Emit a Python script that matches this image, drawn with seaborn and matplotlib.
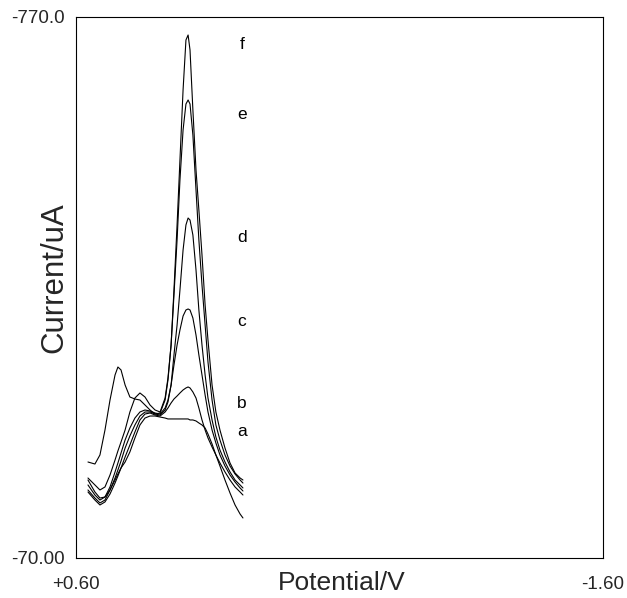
import pandas as pd
import matplotlib
matplotlib.use("Agg")
import matplotlib.pyplot as plt
import seaborn as sns

# ================= 数据 =================
potential = [0.550, 0.521, 0.500, 0.479, 0.458, 0.437, 0.425, 0.412, 0.395, 0.375,
             0.354, 0.333, 0.312, 0.291, 0.270, 0.249, 0.228, 0.216, 0.203, 0.191,
             0.178, 0.166, 0.153, 0.141, 0.132, 0.124, 0.112, 0.099, 0.087, 0.074,
             0.061, 0.049, 0.032, 0.016, -0.001, -0.022, -0.043, -0.064, -0.085, -0.097]

cur_a = [-170.9, -155.4, -147.6, -148.9, -158.0, -170.9, -178.7, -186.5, -194.2, -207.2,
         -225.3, -242.1, -251.1, -253.7, -253.7, -252.4, -251.1, -249.9, -249.9, -249.9,
         -249.9, -249.9, -249.9, -249.9, -249.9, -248.6, -248.6, -247.3, -244.7, -242.1,
         -238.2, -230.4, -217.5, -203.3, -189.0, -170.9, -154.1, -138.6, -126.9, -121.8]

cur_b = [-155.4, -145.0, -138.6, -142.5, -152.8, -167.0, -176.1, -186.5, -200.7, -216.2,
         -233.0, -248.6, -256.3, -257.6, -255.0, -253.7, -258.9, -264.1, -270.6, -275.7,
         -279.6, -283.5, -287.4, -290.0, -291.3, -290.0, -284.8, -277.0, -264.1, -248.6,
         -235.6, -225.3, -213.6, -203.3, -192.9, -181.3, -170.9, -161.9, -155.4, -151.5]

cur_c = [-158.0, -147.6, -141.2, -145.0, -158.0, -173.5, -183.9, -195.5, -212.3, -227.9,
         -242.1, -253.7, -258.9, -258.9, -256.3, -255.0, -261.5, -271.9, -293.8, -319.7,
         -345.6, -365.0, -383.1, -390.9, -392.2, -390.9, -380.5, -358.5, -332.7, -306.8,
         -280.9, -258.9, -235.6, -218.8, -203.3, -189.0, -177.4, -168.3, -160.6, -156.7]

cur_d = [-164.5, -151.5, -145.0, -148.9, -161.9, -181.3, -192.9, -205.9, -222.7, -238.2,
         -251.1, -258.9, -261.5, -260.2, -257.6, -256.3, -264.1, -274.4, -293.8, -332.7,
         -371.5, -416.8, -468.5, -500.9, -509.9, -507.3, -487.9, -442.6, -390.9, -345.6,
         -306.8, -277.0, -248.6, -226.6, -209.7, -194.2, -181.3, -170.9, -164.5, -160.6]

cur_e = [-173.5, -164.5, -158.0, -161.9, -177.4, -196.8, -208.5, -220.1, -235.6, -258.9,
         -277.0, -283.5, -278.3, -268.0, -261.5, -258.9, -277.0, -302.9, -345.6, -410.3,
         -481.5, -559.1, -623.8, -657.4, -662.6, -657.4, -617.3, -546.2, -481.5, -423.2,
         -371.5, -323.6, -274.4, -242.1, -222.7, -203.3, -189.0, -178.7, -170.9, -167.0]

cur_f = [-194.2, -191.6, -203.3, -235.6, -274.4, -306.8, -317.1, -313.3, -293.8, -278.3,
         -275.7, -274.4, -268.0, -261.5, -256.3, -257.6, -274.4, -300.3, -345.6, -416.8,
         -500.9, -585.0, -675.5, -740.2, -746.7, -727.3, -649.7, -572.0, -520.3, -462.1,
         -397.4, -352.1, -293.8, -258.9, -235.6, -212.3, -192.9, -180.0, -173.5, -170.9]

curve_names = ["a", "b", "c", "d", "e", "f"]
curve_values = [cur_a, cur_b, cur_c, cur_d, cur_e, cur_f]
label_y = [-233.1, -269.3, -375.4, -485.3, -643.2, -733.8]
label_x = -0.093

x_ticks = [0.60, -1.60]
x_tick_labels = ["+0.60", "-1.60"]
y_ticks = [-770.0, -70.0]
y_tick_labels = ["-770.0", "-70.00"]

# ================= 整理成长表 =================
rows = []
for name, vals in zip(curve_names, curve_values):
    for p, c in zip(potential, vals):
        rows.append({"curve": name, "potential": p, "current": c})
df = pd.DataFrame(rows)

# ================= 绘图 =================
sns.set_style("white")
plt.rcParams["font.family"] = ["Liberation Sans", "DejaVu Sans"]

fig = plt.figure(figsize=(6.27, 5.98), dpi=100)
ax = fig.add_axes([0.1212, 0.0669, 0.8405, 0.9047])

sns.lineplot(data=df, x="potential", y="current", hue="curve",
             palette={n: "black" for n in curve_names}, estimator=None,
             sort=False, legend=False, linewidth=0.8, ax=ax)

for name, ly in zip(curve_names, label_y):
    ax.text(label_x, ly, name, fontsize=12.5, ha="center", va="center", color="black")

ax.set_xlim(0.60, -1.60)
ax.set_ylim(-70.0, -770.0)
ax.set_xticks(x_ticks)
ax.set_xticklabels(x_tick_labels, fontsize=13.5)
ax.set_yticks(y_ticks)
ax.set_yticklabels(y_tick_labels, fontsize=13.5)
ax.tick_params(axis="x", length=0, pad=13)
ax.tick_params(axis="y", length=0, pad=8)

ax.set_xlabel("Potential/V", fontsize=19)
ax.xaxis.set_label_coords(0.505, -0.024)
ax.set_ylabel("Current/uA", fontsize=22.5)
ax.yaxis.set_label_coords(-0.012, 0.519)

for s in ax.spines.values():
    s.set_color("black")
    s.set_linewidth(0.8)

fig.savefig("out.png", dpi=100)
